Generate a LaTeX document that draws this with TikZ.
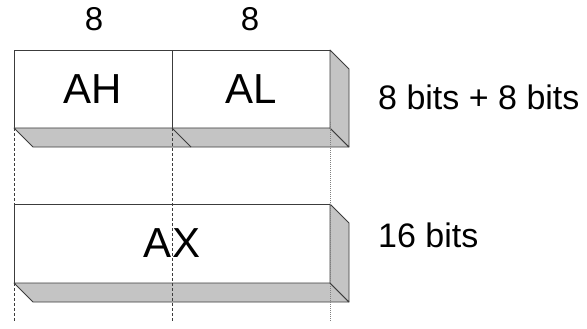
\documentclass[tikz,border=0pt]{standalone}
\usepackage{fontspec}
\setmainfont{Liberation Sans}
\definecolor{edge}{HTML}{3C3C3C}
\definecolor{side}{HTML}{C4C4C4}
\begin{document}
\begin{tikzpicture}[x=1pt,y=-1pt,
  reg/.style={draw=edge,line width=0.8pt,fill=white,rectangle,inner sep=0pt,outer sep=0pt,
    minimum height=78pt,font=\fontsize{42}{48}\selectfont},
  face/.style={draw=edge,line width=0.8pt,fill=side,line join=round},
  guide/.style={draw=edge,line width=0.6pt,dash pattern=on 3pt off 2pt},
  fineguide/.style={draw=gray,line width=0.5pt,dash pattern=on 1pt off 1pt},
  width/.style={font=\fontsize{33}{38}\selectfont},
  note/.style={anchor=west,inner sep=0pt,font=\fontsize{34}{40}\selectfont}]
\useasboundingbox (0,0) rectangle (587,329);
\def\dep{19}
% 8-bit halves
\node[reg,minimum width=158pt] (ah) at (93,89) {AH};
\node[reg,minimum width=158pt] (al) at (251,89) {AL};
\draw[face] (ah.south west) -- (al.south east) -- ++(\dep,\dep) -- ([shift={(\dep,\dep)}]ah.south west) -- cycle;
\draw[face] (al.north east) -- ++(\dep,\dep) -- ([shift={(\dep,\dep)}]al.south east) -- (al.south east) -- cycle;
\draw[edge,line width=0.8pt] (al.south west) -- ++(\dep,\dep);
% 16-bit register
\node[reg,minimum width=316pt,minimum height=79pt] (ax) at (172,243.5) {AX};
\draw[face] (ax.south west) -- (ax.south east) -- ++(\dep,\dep) -- ([shift={(\dep,\dep)}]ax.south west) -- cycle;
\draw[face] (ax.north east) -- ++(\dep,\dep) -- ([shift={(\dep,\dep)}]ax.south east) -- (ax.south east) -- cycle;
% bit widths
\node[width] (w1) at (94,19) {8};
\node[width] (w2) at (250,19) {8};
% descriptions
\node[note] (d1) at (378,97) {8 bits + 8 bits};
\node[note] (d2) at (378,235) {16 bits};
% alignment guides
\coordinate (g1) at (14,322);
\coordinate (g2) at (172,322);
\coordinate (g3) at (330,322);
\draw[guide] (ah.south west) -- (g1);
\draw[guide] (al.south west) -- (g2);
\draw[fineguide] ([yshift=6pt]al.south east) -- (g3);
\end{tikzpicture}
\end{document}
